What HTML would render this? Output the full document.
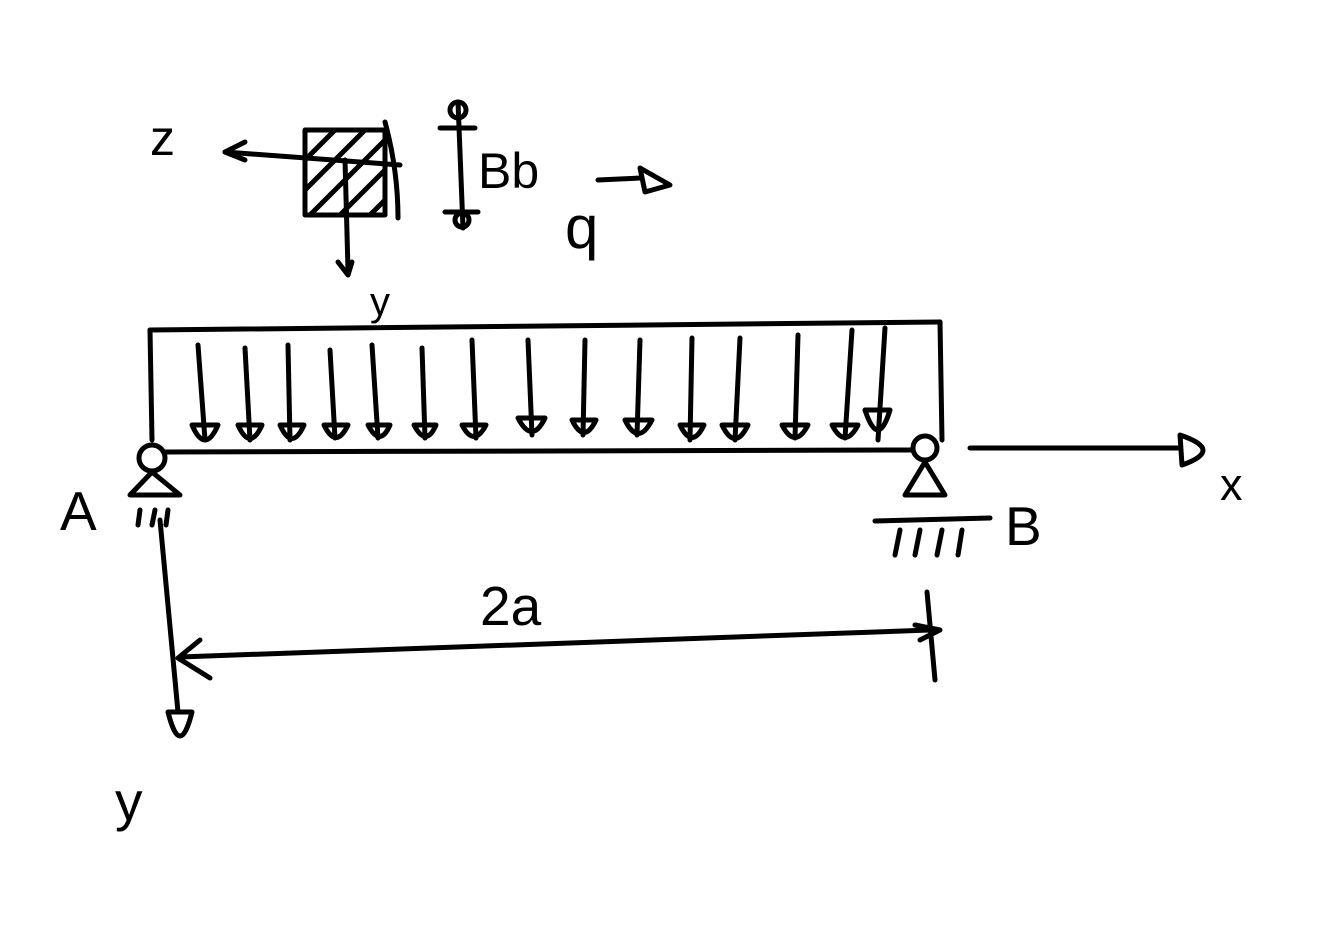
<!DOCTYPE html>
<html><head><meta charset="utf-8"><style>
html,body{margin:0;padding:0;background:#fff;}
svg{display:block}
text{font-family:"Liberation Sans",sans-serif;fill:#000}
</style></head><body>
<svg width="1341" height="928" viewBox="0 0 1341 928" xmlns="http://www.w3.org/2000/svg">
<g stroke="#000" stroke-width="5" fill="none" stroke-linecap="round" stroke-linejoin="round">
<rect x="305" y="130" width="80" height="85"/>
<g stroke-width="5">
<line x1="305" y1="160" x2="335" y2="130"/><line x1="305" y1="190" x2="365" y2="130"/>
<line x1="310" y1="215" x2="385" y2="140"/><line x1="340" y1="215" x2="385" y2="170"/>
<line x1="370" y1="215" x2="385" y2="200"/>
</g>
<line x1="225" y1="152" x2="400" y2="165"/>
<path d="M245 142 L225 152 L245 160"/>
<line x1="345" y1="160" x2="348" y2="270"/>
<path d="M338 262 L348 275 L352 262"/>
<path d="M385 122 Q398 170 398 218"/>
<line x1="458" y1="102" x2="463" y2="228"/>
<circle cx="458" cy="110" r="8"/><circle cx="462" cy="220" r="7"/>
<line x1="440" y1="128" x2="475" y2="128"/><line x1="445" y1="212" x2="478" y2="212"/>
<line x1="598" y1="180" x2="640" y2="178"/>
<path d="M640 168 L670 185 L645 192 Z"/>
<line x1="150" y1="330" x2="940" y2="322"/>
<line x1="150" y1="330" x2="152" y2="440"/>
<line x1="940" y1="322" x2="942" y2="440"/>
<g>
<path d="M198 345 L205 440 M192 425 Q205 455 218 425 Z"/>
<path d="M245 348 L250 440 M238 425 Q250 452 262 425 Z"/>
<path d="M288 345 L290 440 M280 425 Q292 452 304 425 Z"/>
<path d="M330 350 L335 438 M324 425 Q336 450 348 425 Z"/>
<path d="M372 345 L378 438 M368 425 Q380 448 390 425 Z"/>
<path d="M422 348 L425 438 M414 425 Q426 448 436 425 Z"/>
<path d="M472 340 L476 438 M462 425 Q474 448 486 425 Z"/>
<path d="M528 340 L532 435 M518 418 Q532 445 545 418 Z"/>
<path d="M585 340 L583 435 M572 420 Q584 445 596 420 Z"/>
<path d="M640 340 L637 435 M625 420 Q638 447 652 420 Z"/>
<path d="M692 338 L690 440 M680 425 Q692 450 704 425 Z"/>
<path d="M740 338 L735 440 M722 425 Q735 452 748 425 Z"/>
<path d="M798 335 L795 438 M782 425 Q795 450 808 425 Z"/>
<path d="M852 330 L845 438 M832 425 Q845 450 858 425 Z"/>
<path d="M885 328 L878 440 M865 410 Q878 450 890 410 Z"/>
</g>
<line x1="165" y1="452" x2="912" y2="450"/>
<circle cx="152" cy="458" r="13"/>
<path d="M152 472 L130 495 L180 495 Z"/>
<line x1="140" y1="510" x2="138" y2="525"/><line x1="155" y1="510" x2="152" y2="525"/><line x1="168" y1="510" x2="166" y2="525"/>
<circle cx="925" cy="448" r="12"/>
<path d="M925 462 L905 495 L945 495 Z"/>
<line x1="875" y1="521" x2="990" y2="518"/>
<line x1="900" y1="530" x2="895" y2="555"/><line x1="920" y1="530" x2="915" y2="555"/><line x1="942" y1="530" x2="937" y2="555"/><line x1="962" y1="530" x2="958" y2="555"/>
<line x1="970" y1="448" x2="1180" y2="448"/>
<path d="M1180 435 Q1225 450 1182 465 Z"/>
<line x1="160" y1="520" x2="178" y2="712"/>
<path d="M168 712 Q180 760 192 712 Z"/>
<line x1="180" y1="657" x2="930" y2="630"/>
<path d="M200 640 L178 658 L210 678"/>
<line x1="927" y1="592" x2="935" y2="680"/>
<path d="M915 625 L940 630 L920 640"/>
</g>
<text x="150" y="155" font-size="50">z</text>
<text x="370" y="315" font-size="40">y</text>
<text x="478" y="188" font-size="50">Bb</text>
<text x="565" y="248" font-size="60">q</text>
<text x="60" y="530" font-size="55">A</text>
<text x="1005" y="545" font-size="55">B</text>
<text x="1220" y="500" font-size="45">x</text>
<text x="115" y="820" font-size="55">y</text>
<text x="480" y="625" font-size="55">2a</text>
</svg>
</body></html>
